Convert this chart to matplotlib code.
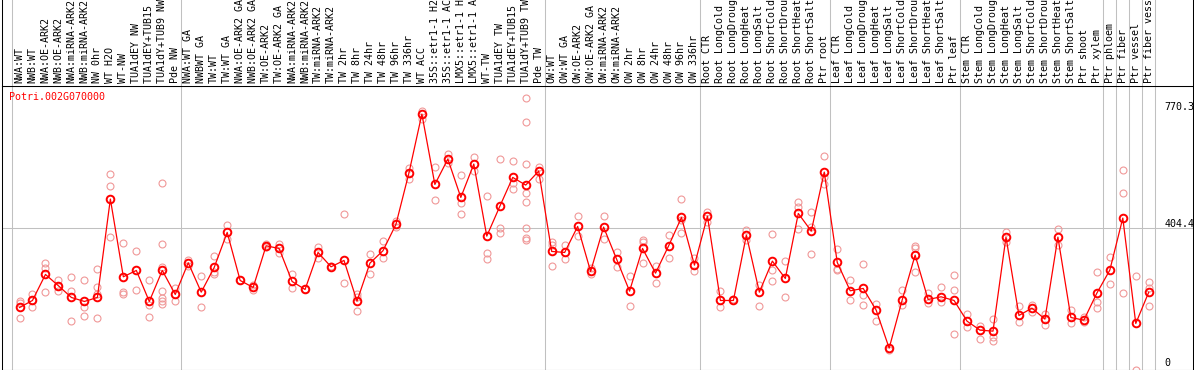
import matplotlib
matplotlib.use("Agg")
import matplotlib.pyplot as plt
import matplotlib.transforms as mtransforms

plt.rcParams['font.family'] = ['DejaVu Sans Mono', 'DejaVu Sans']

gene = "Potri.002G070000"

samples = [
    "NWA:WT", "NWB:WT", "NWA:OE-ARK2", "NWB:OE-ARK2", "NWA:miRNA-ARK2", "NWB:miRNA-ARK2",
    "NW 0hr", "WT H2O", "WT-NW", "TUA1dEY NW", "TUA1dEY+TUB15 NW", "TUA1dY+TUB9 NW", "Pde NW",
    "NWA:WT GA", "NWBWT GA", "TW:WT", "TW:WT GA", "NWA:OE-ARK2 GA", "NWB:OE-ARK2 GA",
    "TW:OE-ARK2", "TW:OE-ARK2 GA", "NWA:miRNA-ARK2", "NWB:miRNA-ARK2", "TW:miRNA-ARK2",
    "TW:miRNA-ARK2", "TW 2hr", "TW 8hr", "TW 24hr", "TW 48hr", "TW 96hr", "TW 336hr",
    "WT ACC", "35S::etr1-1 H2O", "35S::etr1-1 ACC", "LMX5::etr1-1 H2O", "LMX5::etr1-1 ACC",
    "WT-TW", "TUA1dEY TW", "TUA1dEY+TUB15 TW", "TUA1dY+TUB9 TW", "Pde TW",
    "OW:WT", "OW:WT GA", "OW:OE-ARK2", "OW:OE-ARK2 GA", "OW:miRNA-ARK2", "OW:miRNA-ARK2",
    "OW 2hr", "OW 8hr", "OW 24hr", "OW 48hr", "OW 96hr", "OW 336hr",
    "Root CTR", "Root LongCold", "Root LongDrought", "Root LongHeat", "Root LongSalt",
    "Root ShortCold", "Root ShortDrought", "Root ShortHeat", "Root ShortSalt", "Ptr root",
    "Leaf CTR", "Leaf LongCold", "Leaf LongDrought", "Leaf LongHeat", "Leaf LongSalt",
    "Leaf ShortCold", "Leaf ShortDrought", "Leaf ShortHeat", "Leaf ShortSalt", "Ptr leaf",
    "Stem CTR", "Stem LongCold", "Stem LongDrought", "Stem LongHeat", "Stem LongSalt",
    "Stem ShortCold", "Stem ShortDrought", "Stem ShortHeat", "Stem ShortSalt",
    "Ptr shoot", "Ptr xylem", "Ptr phloem", "Ptr fiber", "Ptr vessel", "Ptr fiber vessel",
]

means = [
    182.0, 201.7, 274.9, 243.0, 210.1, 198.9, 210.1, 486.9, 268.3, 286.1,
    198.9, 286.1, 218.6, 307.7, 225.1, 294.6, 393.1, 258.0, 238.3, 355.5,
    348.0, 255.2, 232.6, 336.8, 296.4, 314.3, 199.8, 306.8, 341.5, 415.6,
    560.0, 726.1, 528.1, 599.4, 491.6, 585.4, 382.7, 466.2, 547.8, 526.3,
    565.7, 339.6, 336.8, 409.9, 283.3, 408.1, 318.0, 228.0, 348.0, 278.6,
    354.6, 435.3, 301.1, 439.0, 201.7, 201.7, 385.6, 225.1, 312.4, 263.6,
    446.5, 396.8, 562.8, 308.6, 228.9, 235.5, 174.5, 67.5, 202.6, 329.3,
    204.5, 212.0, 201.7, 143.5, 118.2, 115.4, 379.9, 159.5, 180.1, 149.2,
    379.9, 153.8, 146.3, 222.3, 287.1, 433.4, 137.0, 225.1,
]

replicates = [
    [200.7, 193.2, 151.0], [219.5, 201.7, 183.8], [305.8, 292.7, 225.1],
    [258.9, 242.0, 228.9], [267.3, 227.9, 143.5], [258.0, 183.8, 156.6],
    [288.9, 240.1, 219.5, 151.0], [557.2, 524.3, 379.0], [362.1, 224.2, 218.6],
    [339.6, 229.8], [258.0, 188.5, 153.8],
    [530.9, 360.2, 296.4, 227.9, 207.3, 199.8, 192.3],
    [236.4, 198.9], [315.2, 298.3], [270.1, 182.0], [326.4, 282.3, 274.8],
    [413.7, 373.3], [258.0], [244.8, 230.7], [361.1, 350.8], [361.1, 334.9],
    [276.7, 235.4], [232.6], [352.7, 321.7], [299.2], [443.7, 249.5],
    [219.5, 212.0, 171.7], [332.1, 274.8], [368.6, 319.9], [424.9, 409.0],
    [573.1, 542.2], [735.4, 712.9], [575.9, 484.0], [612.5, 587.2],
    [553.4, 476.5, 443.7], [605.0, 565.6], [494.3, 333.9, 317.0],
    [598.4, 406.2, 390.2], [592.8, 532.8, 514.0],
    [770.1, 702.6, 584.4, 504.6, 478.4, 404.3, 378.0, 372.4],
    [577.6, 542.2], [364.9, 357.4, 297.3], [357.4, 317.0], [439.0, 383.6],
    [293.6, 276.7], [439.0, 374.3], [336.7, 296.4], [271.1, 184.8],
    [372.4, 364.9, 305.8], [299.2, 250.4], [384.6, 320.8], [485.9, 427.7, 390.2],
    [319.9, 285.2], [451.2, 423.0], [227.9, 183.8], [204.5], [398.7, 371.4],
    [244.8, 184.8], [387.4, 287.0, 255.1], [311.4, 210.1], [477.4, 465.2, 401.5],
    [450.2, 409.0, 332.1], [606.9, 547.8, 529.0], [346.1, 290.8, 286.1],
    [258.0, 203.5], [303.0, 215.7, 188.5], [190.4, 144.5], [61.9],
    [230.7, 188.5], [354.6, 348.0, 282.3], [221.4, 193.2], [240.1, 196.0],
    [273.0, 229.8, 106.0], [163.2, 127.6], [129.4, 92.9], [149.1, 99.4, 88.2],
    [394.0, 366.8], [185.7, 141.6], [188.5, 169.8], [163.2, 131.3],
    [401.5, 357.4], [174.5, 138.8], [155.7, 139.8], [282.3, 197.9, 179.2],
    [324.5, 246.7], [568.4, 502.8, 222.3], [270.1, 7.5], [252.3, 237.3, 185.7],
]

# a grey line goes right after each of these samples
group_ends = [-1, 12, 40, 52, 62, 72, 83, 84, 85, 86, 87]
ticks = [0, 404.4, 770.3]

W, H = 1194, 370
fig = plt.figure(figsize=(W / 100, H / 100), dpi=100)

left_px, right_px = 1.5, 1193
top_px, bot_px = 86, 369.5
pitch, first_px = 12.98, 19.5

ax = fig.add_axes([left_px / W, (H - bot_px) / H, (right_px - left_px) / W, (bot_px - top_px) / H])
lab = fig.add_axes([left_px / W, (H - top_px) / H, (right_px - left_px) / W, top_px / H + 0.02])

xlim = ((left_px - first_px) / pitch, (right_px - first_px) / pitch)
for a in (ax, lab):
    a.set_xlim(*xlim)
    a.set_xticks([])
    a.set_yticks([])
    for s in a.spines.values():
        s.set_linewidth(0.75)
        s.set_color("black")
    for g in group_ends:
        a.axvline(g + 0.46, color="#c0c0c0", lw=0.75, zorder=0)
lab.spines["top"].set_visible(False)
lab.set_ylim(0, 1)

ax.set_ylim(7.5, 805)
ax.axhline(ticks[1], color="#c0c0c0", lw=0.75, zorder=0)

xs = list(range(len(samples)))
rx, ry = [], []
for i, reps in enumerate(replicates):
    rx += [i] * len(reps)
    ry += reps
ax.plot(rx, ry, "o", mfc="none", mec="#f09898", ms=5, mew=0.8, zorder=2, clip_on=True)
ax.plot(xs, means, "-", color="red", lw=0.9, marker="o", mfc="none", mec="red",
        ms=5.5, mew=1.4, zorder=3)

ax.annotate(gene, xy=(0, 1), xycoords="axes fraction", xytext=(7.5, -6),
            textcoords="offset pixels", va="top", ha="left", color="red", fontsize=7.2)

tick_offsets = [6, 1, -11.5]
for t, dy in zip(ticks, tick_offsets):
    ax.annotate(f"{t:g}", xy=(1, t), xycoords=("axes fraction", "data"),
                xytext=(-28.5, dy), textcoords="offset pixels", va="baseline", ha="left",
                fontsize=7.2, color="black", annotation_clip=False, clip_on=True)

tr = mtransforms.blended_transform_factory(lab.transData, lab.transAxes)
for i, name in enumerate(samples):
    lab.text(i, 2.5 / 86, name, rotation=90, ha="center", va="bottom",
             transform=tr, fontsize=7.2, color="black")

fig.savefig("out.png", dpi=100)
